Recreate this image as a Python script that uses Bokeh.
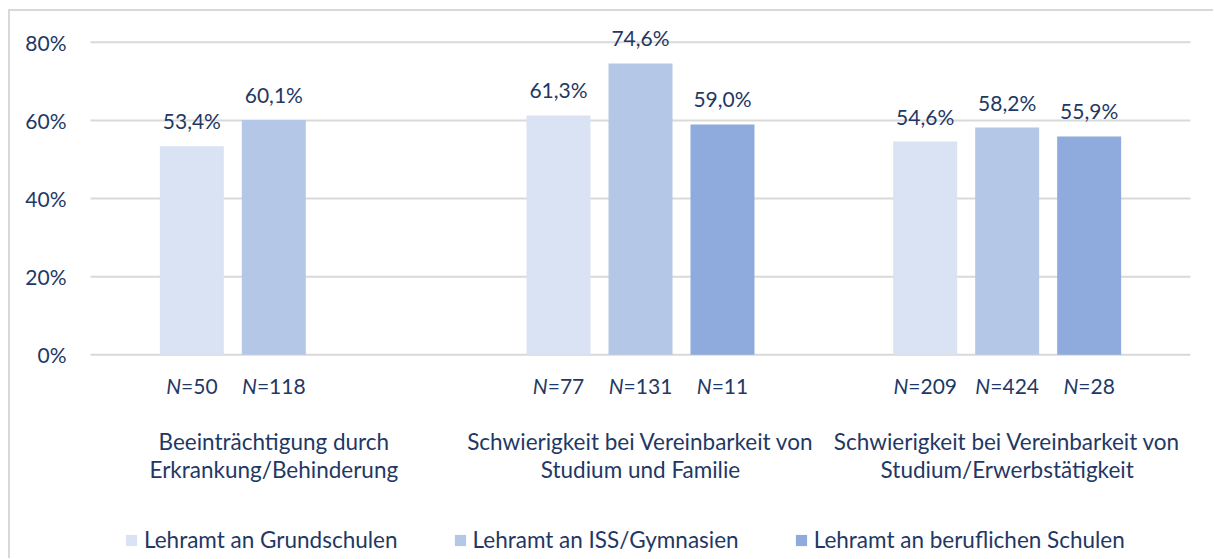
from bokeh.plotting import figure
from bokeh.models import (Range1d, ColumnDataSource, LabelSet, Legend, LegendItem,
                          FixedTicker, PrintfTickFormatter)
from bokeh.transform import dodge
from bokeh.core.properties import value
from bokeh.embed import file_html
from bokeh.resources import INLINE

# ---------------- data ----------------
categories = [
    "Beeinträchtigung durch\nErkrankung/Behinderung",
    "Schwierigkeit bei Vereinbarkeit von\nStudium und Familie",
    "Schwierigkeit bei Vereinbarkeit von\nStudium/Erwerbstätigkeit",
]
series = ["Lehramt an Grundschulen", "Lehramt an ISS/Gymnasien", "Lehramt an beruflichen Schulen"]
grundschulen = [53.4, 61.3, 54.6]
iss_gymnasien = [60.1, 74.6, 58.2]
berufliche = [None, 59.0, 55.9]
n_grundschulen = [50, 77, 209]
n_iss_gymnasien = [118, 131, 424]
n_berufliche = [None, 11, 28]
y_ticks = [0, 20, 40, 60, 80]

# ---------------- styles ----------------
colors = ["#DAE3F3", "#B4C7E7", "#8FAADC"]
TXT = "#1F3864"
FONT = "Lato"
FS = "21px"        # numbers
FS_T = "22.5px"    # words
GRID = "#D9D9D9"

values_by_series = [grundschulen, iss_gymnasien, berufliche]
n_by_series = [n_grundschulen, n_iss_gymnasien, n_berufliche]
cat_pos = list(range(len(categories)))

p = figure(x_range=Range1d(-0.5436, 2.5436), y_range=Range1d(-52.15, 87.9),
           frame_width=1132, frame_height=547,
           min_border_left=64, min_border_right=7, min_border_top=0, min_border_bottom=0,
           output_backend="svg", toolbar_location=None,
           styles={"margin-left": "8px", "margin-top": "9px",
                   "border-left": "2px solid #D9D9D9", "border-top": "2px solid #D9D9D9"})

p.outline_line_color = None
p.xaxis.visible = False
p.xgrid.visible = False
p.ygrid.visible = False
p.yaxis.ticker = FixedTicker(ticks=y_ticks)
p.yaxis.formatter = PrintfTickFormatter(format="%d%%")
p.yaxis.axis_line_color = None
p.yaxis.major_tick_line_color = None
p.yaxis.minor_tick_line_color = None
p.yaxis.major_label_standoff = 2
p.yaxis.major_label_text_font = FONT
p.yaxis.major_label_text_font_size = FS
p.yaxis.major_label_text_color = TXT

# horizontal gridlines across the category span
p.segment(x0=-0.5, x1=len(categories) - 0.5, y0=y_ticks, y1=y_ticks,
          line_color=GRID, line_width=2)

CHAR_W = 12.2   # approx digit / '=' width at 21px
N_W = 15.0      # approx italic N width
STEP = 0.2236   # bar pitch in category units
BAR_W = 0.1745

renderers = []
for i, (s, vals, ns, col) in enumerate(zip(series, values_by_series, n_by_series, colors)):
    xs, ys, labels, nrest, noff = [], [], [], [], []
    for c, v, n in zip(cat_pos, vals, ns):
        if v is None:
            continue
        xs.append(c)
        ys.append(v)
        labels.append(f"{v:.1f}".replace(".", ",") + "%")
        rest = f"={n}"
        nrest.append(rest)
        noff.append((N_W - CHAR_W * len(rest)) / 2)
    src = ColumnDataSource(dict(x=xs, top=ys, label=labels, nrest=nrest, noff=noff,
                                ntxt=["N"] * len(xs), zero=[0] * len(xs)))
    off = (i - 1) * STEP
    xd = dodge("x", off, range=p.x_range)
    r = p.vbar(x=xd, top="top", width=BAR_W, source=src, fill_color=col, line_color=None)
    renderers.append(r)
    p.add_layout(LabelSet(x=xd, y="top", text="label", source=src, text_align="center",
                          text_baseline="alphabetic", y_offset=17, text_font=value(FONT),
                          text_font_size=FS, text_color=TXT))
    p.add_layout(LabelSet(x=xd, y="zero", text="ntxt", source=src, text_align="right",
                          text_baseline="alphabetic", y_offset=-38.7, x_offset="noff",
                          text_font=value(FONT), text_font_style="italic",
                          text_font_size=FS, text_color=TXT))
    p.add_layout(LabelSet(x=xd, y="zero", text="nrest", source=src, text_align="left",
                          text_baseline="alphabetic", y_offset=-38.7, x_offset="noff",
                          text_font=value(FONT), text_font_size=FS, text_color=TXT))

# category labels, each line centred
lines = [c.split("\n") for c in categories]
for k, yoff in enumerate([-94.7, -122.7]):
    src_l = ColumnDataSource(dict(x=cat_pos, y=[0] * len(categories),
                                  t=[ln[k] if k < len(ln) else "" for ln in lines]))
    p.add_layout(LabelSet(x="x", y="y", text="t", source=src_l, text_align="center",
                          text_baseline="alphabetic", y_offset=yoff, text_font=value(FONT),
                          text_font_size=FS_T, text_color=TXT))

legend = Legend(items=[LegendItem(label=s, renderers=[r]) for s, r in zip(series, renderers)],
                orientation="horizontal", location=(50, 5), spacing=55, label_standoff=6,
                glyph_width=14, glyph_height=14, padding=0, margin=0,
                border_line_color=None, background_fill_alpha=0,
                label_text_font=FONT, label_text_font_size=FS_T, label_text_color=TXT)
p.add_layout(legend)

open("out.html", "w").write(file_html(p, INLINE))
